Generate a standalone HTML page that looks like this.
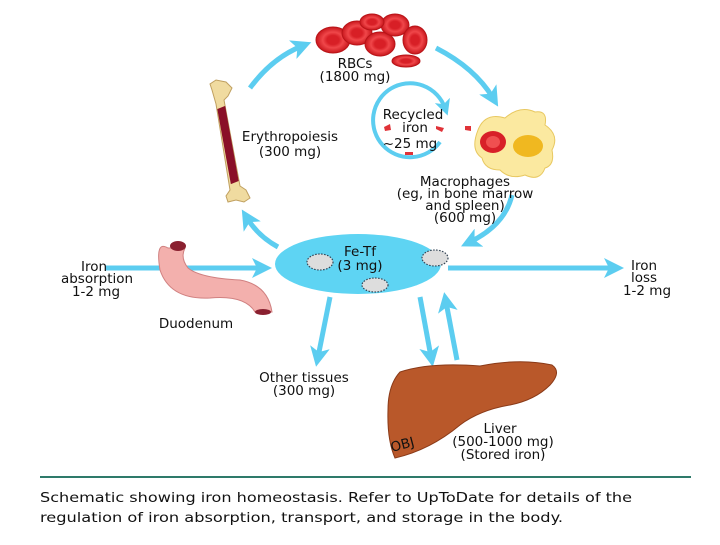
<!DOCTYPE html>
<html><head><style>
body{margin:0;background:#fff;width:720px;height:540px;overflow:hidden}
svg text{font-family:"DejaVu Sans","Liberation Sans",sans-serif;font-size:13.5px;fill:#111}
</style></head><body>
<svg width="720" height="540" viewBox="0 0 720 540">
<defs>
<marker id="ah" markerWidth="4" markerHeight="4" refX="2" refY="2" orient="auto" markerUnits="strokeWidth"><path d="M0,0 L4,2 L0,4 L1,2 Z" fill="#5ccdf0"/></marker>
<radialGradient id="rbc"><stop offset="0.35" stop-color="#d81f26"/><stop offset="0.6" stop-color="#f0474a"/><stop offset="1" stop-color="#c8161c"/></radialGradient>
</defs>
<g fill="none" stroke="#5ccdf0" stroke-width="5" marker-end="url(#ah)">
<path d="M250,88 Q272,58 302,46"/>
<path d="M436,48 Q475,68 493,98"/>
<path d="M512,195 Q505,225 470,242"/>
<path d="M278,247 Q258,236 247,218"/>
<path d="M105,268 L262,268"/>
<path d="M448,268 L614,268"/>
<path d="M330,297 L318,357"/>
<path d="M420,297 L431,357"/>
<path d="M457,360 L446,302"/>
<path d="M440,142 A37,37 0 1 1 445,108" stroke-width="4"/>
</g>
<g stroke="#b81418" stroke-width="1">
<ellipse cx="333" cy="40" rx="17" ry="13" fill="url(#rbc)"/>
<ellipse cx="357" cy="33" rx="15" ry="12" fill="url(#rbc)"/>
<ellipse cx="380" cy="44" rx="15" ry="12" fill="url(#rbc)"/>
<ellipse cx="395" cy="25" rx="14" ry="11" fill="url(#rbc)"/>
<ellipse cx="415" cy="40" rx="12" ry="14" fill="url(#rbc)"/>
<ellipse cx="372" cy="22" rx="12" ry="8" fill="url(#rbc)"/>
<ellipse cx="406" cy="61" rx="14" ry="6" fill="url(#rbc)"/>
</g>
<text x="355" y="68" text-anchor="middle">RBCs</text>
<text x="355" y="81" text-anchor="middle">(1800 mg)</text>
<path d="M212,90 L210,84 L216,80 L226,82 L232,88 L228,96 L224,100 L240,186 L246,190 L250,198 L244,202 L236,200 L228,202 L226,196 L230,190 L216,104 Z" fill="#f0dba0" stroke="#c0a060" stroke-width="1"/>
<path d="M219,110 L224,108 L237,180 L232,182 Z" fill="#8a1028" stroke="#8a1028" stroke-width="3"/>
<text x="290" y="141" text-anchor="middle">Erythropoiesis</text>
<text x="290" y="156" text-anchor="middle">(300 mg)</text>
<text x="413" y="119" text-anchor="middle">Recycled</text>
<text x="415" y="132" text-anchor="middle">iron</text>
<text x="410" y="148" text-anchor="middle">~25 mg</text>
<path d="M384,127 l6,-3 l1,6 l-6,1z M436,126 l8,2 l-2,4 l-6,-3z M465,126 l6,0 l0,5 l-6,-1z M405,152 l8,0 l0,3 l-8,0z" fill="#e03238"/>
<path d="M478,130 Q485,112 505,118 Q520,105 535,112 Q548,110 545,125 Q560,135 552,150 Q555,165 545,168 Q540,182 525,175 Q510,180 500,170 Q485,170 482,158 Q470,150 478,130Z" fill="#fbe9a0" stroke="#e8c860"/>
<ellipse cx="493" cy="142" rx="13" ry="11" fill="#d82028"/>
<ellipse cx="493" cy="142" rx="7" ry="6" fill="#f05050"/>
<ellipse cx="528" cy="146" rx="15" ry="11" fill="#f0b820"/>
<text x="465" y="186" text-anchor="middle">Macrophages</text>
<text x="465" y="198" text-anchor="middle">(eg, in bone marrow</text>
<text x="465" y="210" text-anchor="middle">and spleen)</text>
<text x="465" y="222" text-anchor="middle">(600 mg)</text>
<ellipse cx="358" cy="264" rx="83" ry="30" fill="#5ed4f3"/>
<g fill="#ddd" stroke="#345" stroke-width="1.2" stroke-dasharray="1.5,1.5">
<ellipse cx="320" cy="262" rx="13" ry="8"/>
<ellipse cx="435" cy="258" rx="13" ry="8"/>
<ellipse cx="375" cy="285" rx="13" ry="7"/>
</g>
<text x="360" y="256" text-anchor="middle">Fe-Tf</text>
<text x="360" y="270" text-anchor="middle">(3 mg)</text>
<path d="M168,248 Q155,240 160,270 Q170,300 210,298 Q245,295 255,312 L272,312 Q268,285 240,280 Q200,278 188,268 Q180,258 185,248 Z" fill="#f3b0ad" stroke="#d08080"/>
<ellipse cx="178" cy="246" rx="8" ry="5" fill="#8a2030"/>
<ellipse cx="263" cy="312" rx="8" ry="3" fill="#8a2030"/>
<text x="94" y="271" text-anchor="middle">Iron</text>
<text x="97" y="283" text-anchor="middle">absorption</text>
<text x="96" y="296" text-anchor="middle">1-2 mg</text>
<text x="196" y="328" text-anchor="middle">Duodenum</text>
<text x="644" y="270" text-anchor="middle">Iron</text>
<text x="644" y="282" text-anchor="middle">loss</text>
<text x="647" y="295" text-anchor="middle">1-2 mg</text>
<text x="304" y="382" text-anchor="middle">Other tissues</text>
<text x="304" y="395" text-anchor="middle">(300 mg)</text>
<path d="M400,372 Q430,362 480,366 Q520,358 552,365 Q562,372 550,385 Q535,400 510,405 Q480,410 460,425 Q430,450 395,458 Q387,440 388,410 Q388,385 400,372Z" fill="#b9582a" stroke="#8a3a18"/>
<text x="392" y="452" font-size="9" fill="#333" transform="rotate(-15 392 452)">OBJ</text>
<text x="500" y="433" text-anchor="middle">Liver</text>
<text x="503" y="446" text-anchor="middle">(500-1000 mg)</text>
<text x="503" y="459" text-anchor="middle">(Stored iron)</text>
<line x1="40" y1="477" x2="691" y2="477" stroke="#2e7a6a" stroke-width="2"/>
<text x="40" y="502" font-size="17.5" fill="#222" textLength="592" lengthAdjust="spacingAndGlyphs">Schematic showing iron homeostasis. Refer to UpToDate for details of the</text>
<text x="40" y="522" font-size="17.5" fill="#222" textLength="523" lengthAdjust="spacingAndGlyphs">regulation of iron absorption, transport, and storage in the body.</text>
</svg>
</body></html>
